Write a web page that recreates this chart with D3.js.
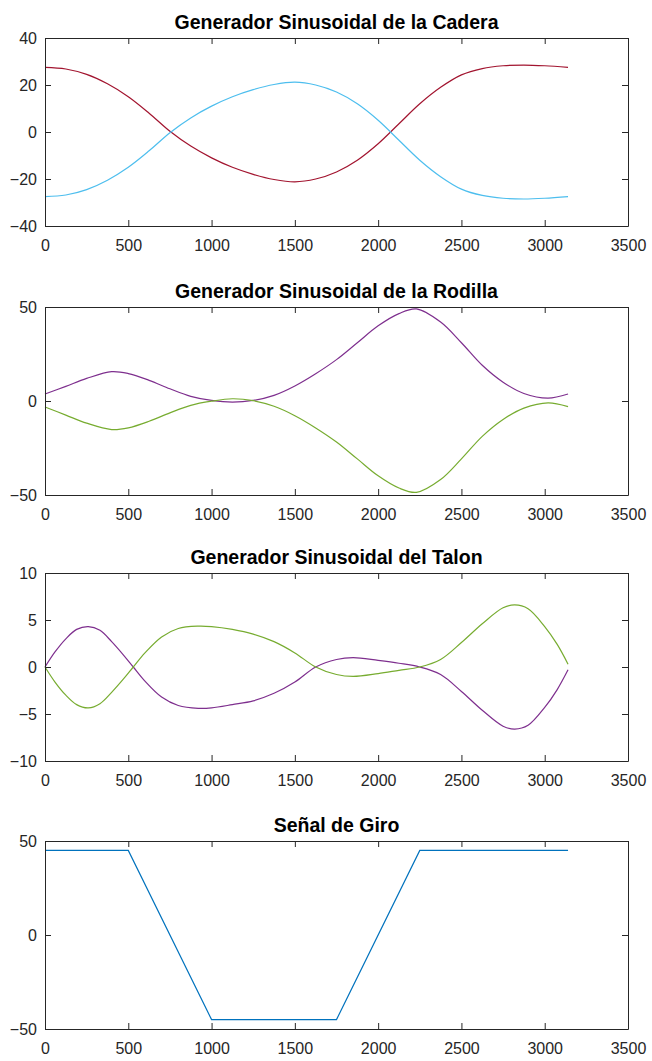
<!DOCTYPE html>
<html>
<head>
    <meta charset="utf-8">
    <title>Generador Sinusoidal</title>
    <script src="https://d3js.org/d3.v7.min.js" charset="utf-8"></script>
    <style>
        html, body { margin: 0; padding: 0; background: #fff; }
        svg text { font-family: "Liberation Sans", Arial, sans-serif; fill: #262626; }
        .tick text { font-size: 16px; }
        .title { font-size: 19.5px; font-weight: bold; fill: #000; }
    </style>
</head>
<body>
<div id="chart"></div>
<script>
    // tick values shared by all panels
    const xTicks = [0, 500, 1000, 1500, 2000, 2500, 3000, 3500];

    // Generador Sinusoidal de la Cadera
    const caderaX = [0, 125, 250, 375, 500, 625, 750, 875, 1000, 1125, 1250, 1375, 1500, 1625, 1750, 1875, 2000, 2125, 2250, 2375, 2500, 2625, 2750, 2875, 3000, 3140];
    const caderaRed = [27.5, 26.8, 24.5, 20.5, 15, 8, 0.3, -6, -11, -15, -18, -20.2, -21.2, -20, -17, -12, -5, 3.5, 12, 19, 24.3, 27, 28.2, 28.5, 28.2, 27.5];
    const caderaBlue = [-27.5, -26.8, -24.5, -20.5, -15, -8, -0.3, 6, 11, 15, 18, 20.2, 21.2, 20, 17, 12, 5, -3.5, -12, -19, -24.3, -27, -28.2, -28.5, -28.2, -27.5];
    const caderaYTicks = [-40, -20, 0, 20, 40];

    // Generador Sinusoidal de la Rodilla
    const rodillaX = [0, 125, 250, 400, 500, 625, 750, 875, 1000, 1125, 1250, 1375, 1500, 1625, 1750, 1875, 2000, 2125, 2230, 2375, 2500, 2625, 2750, 2875, 3020, 3140];
    const rodillaPurple = [3.7, 7.8, 12, 15.6, 14.6, 11, 6.5, 2.5, 0.3, -0.6, 0.3, 3, 8, 14.5, 22, 31, 40, 46.5, 49, 42, 31, 19, 10, 4, 1.5, 3.7];
    const rodillaGreen = [-3.2, -7.5, -11.8, -15.2, -14.3, -10.8, -6.3, -2.3, -0.1, 1.2, 0.2, -2.8, -7.8, -14.3, -21.8, -30.8, -39.8, -46.3, -48.6, -41.8, -30.8, -18.8, -9.8, -3.8, -1.0, -3.0];
    const rodillaYTicks = [-50, 0, 50];

    // Generador Sinusoidal del Talon
    const talonX = [0, 60, 125, 190, 260, 330, 400, 470, 530, 600, 700, 800, 920, 1000, 1125, 1250, 1375, 1500, 1625, 1750, 1850, 2000, 2125, 2250, 2375, 2500, 2625, 2750, 2820, 2900, 3000, 3075, 3140];
    const talonPurple = [0, 1.6, 3.0, 4.0, 4.3, 3.9, 2.7, 1.3, 0, -1.5, -3.2, -4.1, -4.4, -4.35, -4.0, -3.6, -2.8, -1.6, 0, 0.8, 1.0, 0.7, 0.4, 0, -0.8, -2.6, -4.6, -6.3, -6.6, -6.2, -4.3, -2.4, -0.3];
    const talonGreen = [0, -1.6, -3.0, -4.0, -4.35, -3.9, -2.7, -1.3, 0, 1.5, 3.2, 4.1, 4.35, 4.3, 4.0, 3.5, 2.7, 1.5, 0, -0.8, -1.0, -0.7, -0.35, 0, 0.8, 2.6, 4.6, 6.3, 6.6, 6.2, 4.3, 2.4, 0.3];
    const talonYTicks = [-10, -5, 0, 5, 10];

    // Señal de Giro
    const giroX = [0, 500, 1000, 1750, 2250, 3140];
    const giroY = [45, 45, -45, -45, 45, 45];
    const giroYTicks = [-50, 0, 50];

    const width = 652, height = 1061;
    const left = 45, right = 628, plotH = 188;

    const panels = [
        { title: "Generador Sinusoidal de la Cadera", top: 38, yTicks: caderaYTicks, curve: d3.curveCatmullRom,
          series: [{ x: caderaX, y: caderaRed, color: "#A2142F" }, { x: caderaX, y: caderaBlue, color: "#4DBEEE" }] },
        { title: "Generador Sinusoidal de la Rodilla", top: 307, yTicks: rodillaYTicks, curve: d3.curveCatmullRom,
          series: [{ x: rodillaX, y: rodillaPurple, color: "#7E2F8E" }, { x: rodillaX, y: rodillaGreen, color: "#77AC30" }] },
        { title: "Generador Sinusoidal del Talon", top: 573, yTicks: talonYTicks, curve: d3.curveCatmullRom,
          series: [{ x: talonX, y: talonPurple, color: "#7E2F8E" }, { x: talonX, y: talonGreen, color: "#77AC30" }] },
        { title: "Señal de Giro", top: 841, yTicks: giroYTicks, curve: d3.curveLinear,
          series: [{ x: giroX, y: giroY, color: "#0072BD" }] }
    ];

    const svg = d3.select("#chart").append("svg")
        .attr("width", width)
        .attr("height", height);

    const xScale = d3.scaleLinear().domain([0, 3500]).range([left, right]);

    panels.forEach(p => {
        const yDomain = d3.extent(p.yTicks);
        const yScale = d3.scaleLinear().domain(yDomain).range([p.top + plotH, p.top]);
        const g = svg.append("g");

        // lines first, then the box on top
        p.series.forEach(s => {
            const line = d3.line()
                .x(d => xScale(d[0]))
                .y(d => yScale(d[1]))
                .curve(p.curve);
            g.append("path")
                .datum(d3.zip(s.x, s.y))
                .attr("fill", "none")
                .attr("stroke", s.color)
                .attr("stroke-width", 1.2)
                .attr("d", line);
        });

        // axes: labelled bottom/left, plain ticks on top/right, all pointing inward
        g.append("g")
            .attr("transform", `translate(0, ${p.top + plotH})`)
            .call(d3.axisBottom(xScale).tickValues(xTicks).tickFormat(d3.format("d"))
                .tickSizeInner(-6).tickSizeOuter(0).tickPadding(14));
        g.append("g")
            .attr("transform", `translate(0, ${p.top})`)
            .call(d3.axisTop(xScale).tickValues(xTicks).tickFormat("")
                .tickSizeInner(-6).tickSizeOuter(0));
        g.append("g")
            .attr("transform", `translate(${left}, 0)`)
            .call(d3.axisLeft(yScale).tickValues(p.yTicks).tickFormat(d3.format("d"))
                .tickSizeInner(-6).tickSizeOuter(0).tickPadding(8));
        g.append("g")
            .attr("transform", `translate(${right}, 0)`)
            .call(d3.axisRight(yScale).tickValues(p.yTicks).tickFormat("")
                .tickSizeInner(-6).tickSizeOuter(0));

        g.selectAll(".domain, .tick line").attr("stroke", "#262626");
        g.selectAll(".tick text").attr("fill", "#262626");

        g.append("text")
            .attr("class", "title")
            .attr("x", (left + right) / 2)
            .attr("y", p.top - 9)
            .attr("text-anchor", "middle")
            .text(p.title);
    });
</script>
</body>
</html>
